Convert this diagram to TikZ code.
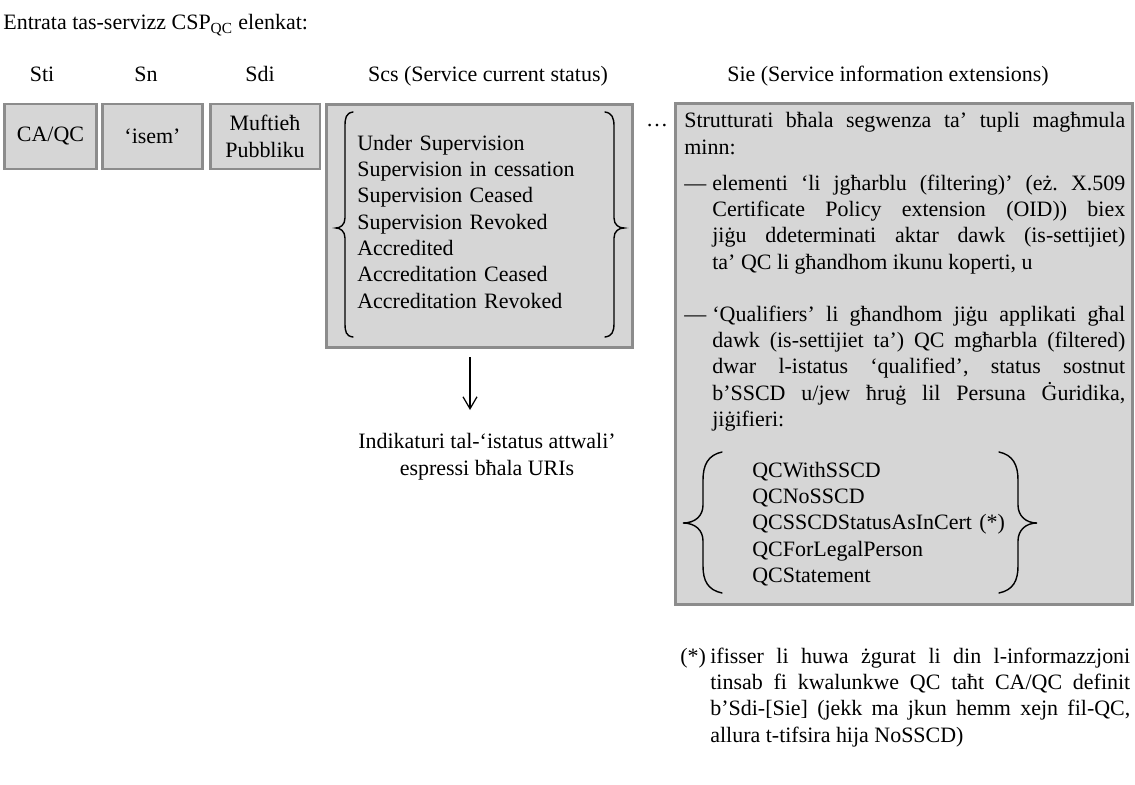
\documentclass[tikz,border=0pt]{standalone}
\usepackage{fontspec}
\setmainfont{Liberation Serif}
\usepackage{tikz}
\usepackage{xcolor}
\usetikzlibrary{arrows.meta, positioning}
\definecolor{boxFill}{RGB}{214,214,214}
\definecolor{boxLine}{RGB}{140,140,140}
\frenchspacing
\tikzset{
	entrybox/.style={rectangle, draw=boxLine, line width=1.7pt, fill=boxFill, align=center, inner sep=0pt},
	colhead/.style ={anchor=base, inner sep=0pt},
	listtxt/.style ={anchor=base west, inner sep=0pt, align=left},
	para/.style    ={anchor=base west, inner sep=0pt, align=justify},
	brace/.style   ={line width=0.8pt, line cap=round},
	sig/.style     ={-{Straight Barb[length=2.4mm, width=2.8mm]}, line width=0.7pt},
}

\begin{document}
\begin{tikzpicture}[x=0.02cm, y=-0.02cm, font=\fontsize{12.5}{15}\selectfont]
	\useasboundingbox (0,0) rectangle (1135,784);
	% title and column heads
	\node[listtxt] (title) at (3,30) {Entrata tas-servizz CSP\textsubscript{QC} elenkat:};
	\node[colhead] (hSti) at (42,82) {Sti};
	\node[colhead] (hSn)  at (146,82) {Sn};
	\node[colhead] (hSdi) at (260,82) {Sdi};
	\node[colhead] (hScs) at (488,82) {Scs (Service current status)};
	\node[colhead] (hSie) at (888,82) {Sie (Service information extensions)};
	% entry boxes
	\node[entrybox, minimum width=1.86cm, minimum height=1.3cm] (sti) at (50.5,136.5) {CA/QC};
	\node[entrybox, minimum width=2.02cm, minimum height=1.3cm] (sn)  at (152.5,136.5) {‘isem’};
	\node[entrybox, minimum width=2.2cm, minimum height=1.3cm]  (sdi) at (265,136.5) {Muftieħ\\Pubbliku};
	\node[entrybox, minimum width=6.14cm, minimum height=4.88cm] (scs) at (479.5,226) {};
	\node[entrybox, minimum width=9.16cm, minimum height=10.04cm] (sie) at (904,354) {};
	\node[colhead] (dots) at (657,127) {\dots};
	% current status values
	\node[listtxt, text width=5cm] (status) at (357,150) {Under Supervision\\Supervision in cessation\\Supervision Ceased\\Supervision Revoked\\Accredited\\Accreditation Ceased\\Accreditation Revoked};
	\draw[brace] (353,112) .. controls (346,113) and (345,118) .. (345,126) -- (345,218)
		.. controls (345,225) and (340,228) .. (336,228) .. controls (340,228) and (345,231) .. (345,238)
		-- (345,323) .. controls (345,332) and (346,336) .. (353,337);
	\draw[brace] (605,112) .. controls (612,113) and (614,118) .. (614,126) -- (614,218)
		.. controls (614,225) and (619,228) .. (624,228) .. controls (619,228) and (614,231) .. (614,238)
		-- (614,323) .. controls (614,332) and (612,336) .. (605,337);
	% status indicators
	\coordinate (arrS) at (470,357);
	\coordinate (arrE) at (470,410);
	\draw[sig] (arrS) -- (arrE);
	\node[colhead, align=center] (uri) at (487,475) {Indikaturi tal-‘istatus attwali’\\espressi bħala URIs};
	% extensions
	\node[para, text width=8.82cm] (sieIntro) at (684,128) {Strutturati bħala segwenza ta’ tupli magħmula\linebreak minn:};
	\node[listtxt] (dashA) at (684,190) {—};
	\node[para, text width=8.26cm] (filt) at (712,190) {elementi ‘li jgħarblu (filtering)’ (eż. X.509\linebreak Certificate Policy extension (OID)) biex\linebreak jiġu ddeterminati aktar dawk (is-settijiet)\linebreak ta’ QC li għandhom ikunu koperti, u};
	\node[listtxt] (dashB) at (684,321) {—};
	\node[para, text width=8.26cm] (qual) at (712,321) {‘Qualifiers’ li għandhom jiġu applikati għal\linebreak dawk (is-settijiet ta’) QC mgħarbla (filtered)\linebreak dwar l-istatus ‘qualified’, status sostnut\linebreak b’SSCD u/jew ħruġ lil Persuna Ġuridika,\linebreak jiġifieri:};
	\node[listtxt, text width=6cm] (qcList) at (752,477) {QCWithSSCD\\QCNoSSCD\\QCSSCDStatusAsInCert (*)\\QCForLegalPerson\\QCStatement};
	\draw[brace] (722,452) .. controls (708,455) and (703,465) .. (703,480) -- (703,505)
		.. controls (703,516) and (695,523) .. (683,523) .. controls (695,523) and (703,530) .. (703,541)
		-- (703,566) .. controls (703,581) and (708,590) .. (722,593);
	\draw[brace] (999,452) .. controls (1013,455) and (1018,465) .. (1018,480) -- (1018,505)
		.. controls (1018,516) and (1026,523) .. (1037,523) .. controls (1026,523) and (1018,530) .. (1018,541)
		-- (1018,566) .. controls (1018,581) and (1013,590) .. (999,593);
	% footnote
	\node[listtxt] (star) at (680,663) {(*)};
	\node[para, text width=8.4cm] (fnote) at (710,663) {ifisser li huwa żgurat li din l-informazzjoni\linebreak tinsab fi kwalunkwe QC taħt CA/QC definit\linebreak b’Sdi-[Sie] (jekk ma jkun hemm xejn fil-QC,\linebreak allura t-tifsira hija NoSSCD)};
\end{tikzpicture}
\end{document}
